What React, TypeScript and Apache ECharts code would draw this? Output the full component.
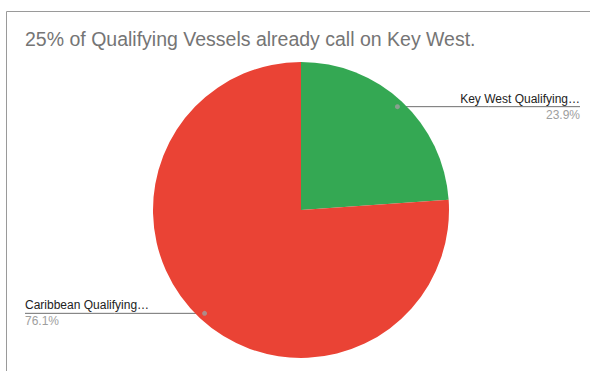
import React, { useEffect, useRef } from "react";
import * as echarts from "echarts";

const title = "25% of Qualifying Vessels already call on Key West.";
const categories = ["Key West Qualifying…", "Caribbean Qualifying…"];
const values = [23.9, 76.1];
const colors = ["#34a853", "#ea4335"];

const W = 590;
const H = 371;
const CX = 301;
const CY = 210;
const R = 148;
const DOT_K = 0.955;
const FONT = "'Liberation Sans', Arial, sans-serif";

export default function App() {
  const ref = useRef<HTMLDivElement>(null);
  useEffect(() => {
    if (!ref.current) return;
    const chart = echarts.init(ref.current, null, { renderer: "svg" });
    const total = values.reduce((a, b) => a + b, 0);
    let cum = 0;
    const mids = values.map((v) => {
      const m = cum + v / 2;
      cum += v;
      return (m / total) * 100;
    });
    chart.setOption({
      animation: false,
      backgroundColor: "#ffffff",
      textStyle: { fontFamily: FONT },
      title: {
        text: title,
        left: 25,
        top: 28.5,
        padding: 0,
        textStyle: { fontSize: 19.5, fontWeight: "normal", color: "#757575", fontFamily: FONT },
      },
      graphic: [
        {
          type: "rect",
          shape: { x: 6.5, y: 11.5, width: 700, height: 500 },
          style: { fill: "none", stroke: "#9a9a9a", lineWidth: 1 },
          silent: true,
          z: -1,
        },
      ],
      polar: { center: [CX, CY], radius: R },
      angleAxis: { type: "value", min: 0, max: 100, startAngle: 90, clockwise: true, show: false },
      radiusAxis: { type: "value", min: 0, max: 1, show: false },
      series: [
        {
          type: "pie",
          center: [CX, CY],
          radius: R,
          startAngle: 90,
          clockwise: true,
          percentPrecision: 1,
          data: categories.map((name, i) => ({ name, value: values[i], itemStyle: { color: colors[i] } })),
          label: {
            show: true,
            position: "outside",
            formatter: "{n|{b}}\n{p|{d}%}",
            rich: {
              n: { fontSize: 12, color: "#222222", lineHeight: 16, fontFamily: FONT },
              p: { fontSize: 12, color: "#9e9e9e", lineHeight: 16, fontFamily: FONT },
            },
          },
          labelLine: { show: true, length: 0, length2: 10, smooth: false, lineStyle: { color: "#6f6f6f", width: 1 } },
          labelLayout: (params: any) => {
            const pts = params.labelLinePoints;
            if (!pts) return {};
            const sx = pts[0][0];
            const sy = pts[0][1];
            const px = CX + (sx - CX) * DOT_K;
            const py = CY + (sy - CY) * DOT_K;
            const right = sx > CX;
            const ex = right ? W - 10 : 25;
            return {
              x: ex,
              y: py,
              align: right ? "right" : "left",
              verticalAlign: "middle",
              labelLinePoints: [
                [px, py],
                [(px + ex) / 2, py],
                [ex, py],
              ],
            };
          },
          emphasis: { disabled: true },
        },
        {
          type: "scatter",
          coordinateSystem: "polar",
          symbol: "circle",
          symbolSize: 5,
          itemStyle: { color: "#9e9e9e" },
          data: mids.map((m) => [DOT_K, m]),
          silent: true,
          z: 5,
        },
      ],
    });
    return () => chart.dispose();
  }, []);
  return <div ref={ref} style={{ position: "fixed", left: 0, top: 0, width: W, height: H }} />;
}
